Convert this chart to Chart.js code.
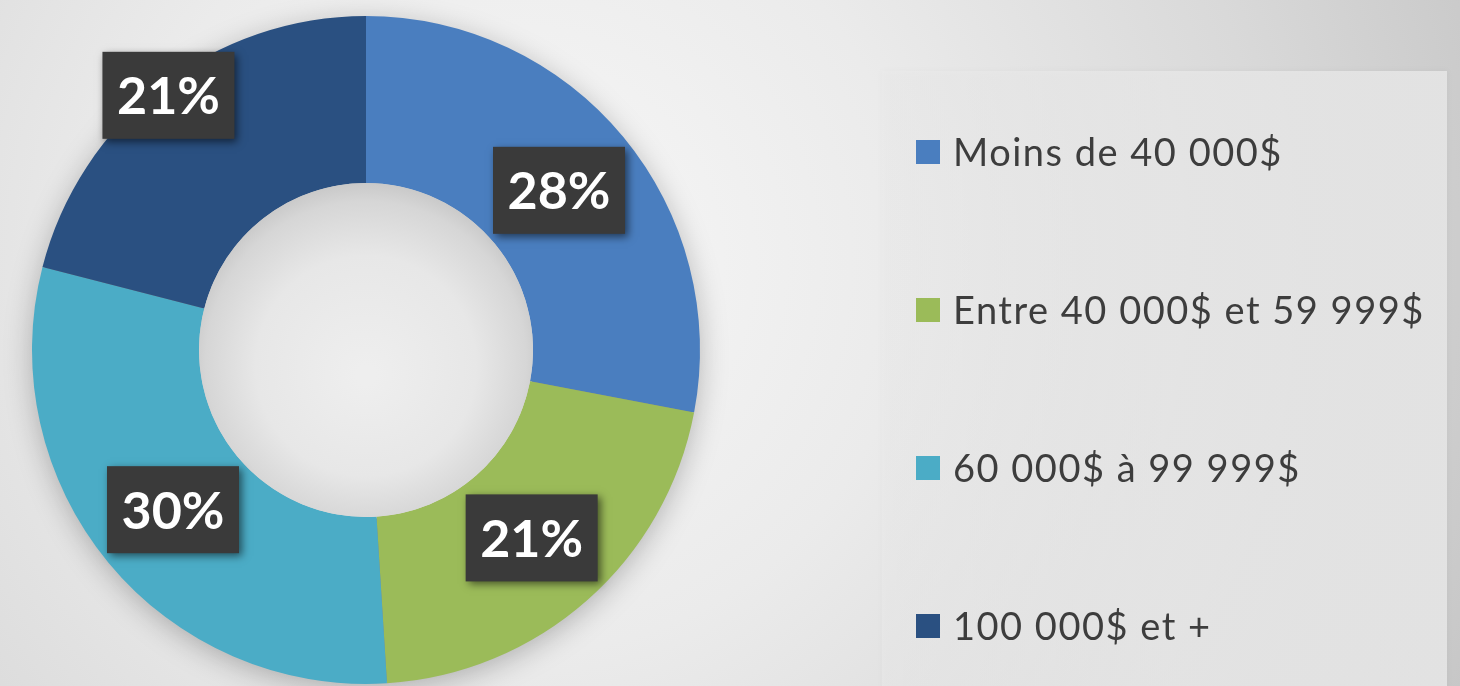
<!DOCTYPE html>
<html>
<head>
<meta charset="utf-8">
<script src="https://cdn.jsdelivr.net/npm/chart.js@4/dist/chart.umd.min.js"></script>
<style>
  html, body { margin: 0; padding: 0; background: #dcdcdc; }
  #wrap { position: relative; width: 1460px; height: 686px; overflow: hidden; }
  canvas { display: block; }
</style>
</head>
<body>
<div id="wrap"><canvas id="c" width="1460" height="686"></canvas></div>
<script>
// ---- data ----
const categories = ['Moins de 40 000$', 'Entre 40 000$ et 59 999$', '60 000$ à 99 999$', '100 000$ et +'];
const values = [28, 21, 30, 21];
const sliceColors = ['#4a7ebf', '#9bbb59', '#4bacc6', '#2a5081'];

// ---- plugins ----
const backgroundPlugin = {
  id: 'bgPaint',
  beforeDraw(chart) {
    const ctx = chart.ctx;
    const W = chart.width, H = chart.height;
    ctx.save();
    const g = ctx.createRadialGradient(520, 260, 40, 520, 260, 1050);
    g.addColorStop(0, '#f6f6f6');
    g.addColorStop(0.35, '#ebebeb');
    g.addColorStop(0.7, '#d9d9d9');
    g.addColorStop(1, '#c6c6c6');
    ctx.fillStyle = g;
    ctx.fillRect(0, 0, W, H);
    // legend panel
    const p = chart.options.plugins.bgPaint;
    ctx.shadowColor = 'rgba(0,0,0,0.05)';
    ctx.shadowBlur = 6;
    const pg = ctx.createLinearGradient(p.x, 0, p.x + p.w, 0);
    pg.addColorStop(0, 'rgba(236,236,236,0.45)');
    pg.addColorStop(0.5, 'rgba(232,232,232,0.8)');
    pg.addColorStop(1, 'rgba(228,228,228,0.95)');
    ctx.fillStyle = pg;
    ctx.fillRect(p.x, p.y, p.w, p.h);
    ctx.restore();
  },
  beforeDatasetsDraw(chart) {
    const meta = chart.getDatasetMeta(0);
    if (!meta.data.length) return;
    const a = meta.data[0].getProps(['x', 'y', 'innerRadius', 'outerRadius'], true);
    const ctx = chart.ctx;
    ctx.save();
    ctx.shadowColor = 'rgba(0,0,0,0.28)';
    ctx.shadowBlur = 30;
    ctx.shadowOffsetY = 6;
    ctx.beginPath();
    ctx.arc(a.x, a.y, a.outerRadius - 2, 0, Math.PI * 2);
    ctx.arc(a.x, a.y, a.innerRadius + 2, 0, Math.PI * 2, true);
    ctx.fillStyle = '#888';
    ctx.fill();
    ctx.restore();
  },
  afterDatasetsDraw(chart) {
    const meta = chart.getDatasetMeta(0);
    if (!meta.data.length) return;
    const a = meta.data[0].getProps(['x', 'y', 'innerRadius', 'outerRadius'], true);
    const ctx = chart.ctx;
    ctx.save();
    ctx.beginPath();
    ctx.arc(a.x, a.y, a.innerRadius, 0, Math.PI * 2);
    ctx.clip();
    const g = ctx.createRadialGradient(a.x, a.y + 25, 10, a.x, a.y + 10, a.innerRadius + 10);
    g.addColorStop(0, '#eeeeee');
    g.addColorStop(0.6, '#e7e7e7');
    g.addColorStop(0.9, '#d6d6d6');
    g.addColorStop(1, '#c9c9c9');
    ctx.fillStyle = g;
    ctx.fillRect(a.x - a.innerRadius, a.y - a.innerRadius, a.innerRadius * 2, a.innerRadius * 2);
    ctx.restore();
  }
};

const labelPlugin = {
  id: 'sliceLabels',
  afterDatasetsDraw(chart) {
    const opts = chart.options.plugins.sliceLabels;
    const meta = chart.getDatasetMeta(0);
    const ctx = chart.ctx;
    const vals = chart.data.datasets[0].data;
    meta.data.forEach((arc, i) => {
      const p = arc.getProps(['x', 'y', 'startAngle', 'endAngle', 'innerRadius', 'outerRadius'], true);
      const mid = (p.startAngle + p.endAngle) / 2;
      const r = p.innerRadius + opts.radial[i] * (p.outerRadius - p.innerRadius);
      const cx = p.x + Math.cos(mid) * r;
      const cy = p.y + Math.sin(mid) * r;
      const bw = opts.boxW, bh = opts.boxH;
      ctx.save();
      ctx.shadowColor = 'rgba(0,0,0,0.55)';
      ctx.shadowBlur = 8;
      ctx.shadowOffsetX = 3;
      ctx.shadowOffsetY = 3;
      ctx.fillStyle = '#3a3a3a';
      ctx.fillRect(cx - bw / 2, cy - bh / 2, bw, bh);
      ctx.restore();
      ctx.save();
      ctx.fillStyle = '#ffffff';
      ctx.font = opts.font;
      ctx.textAlign = 'center';
      ctx.textBaseline = 'alphabetic';
      ctx.fillText(vals[i] + '%', cx, cy + 19);
      ctx.restore();
    });
  }
};

const legendPlugin = {
  id: 'sideLegend',
  afterDraw(chart) {
    const o = chart.options.plugins.sideLegend;
    const ctx = chart.ctx;
    const bg = chart.data.datasets[0].backgroundColor;
    chart.data.labels.forEach((lab, i) => {
      const cy = o.y0 + i * o.step;
      ctx.save();
      ctx.fillStyle = bg[i];
      ctx.fillRect(o.x, cy - o.box / 2, o.box, o.box);
      ctx.fillStyle = '#3d3d3d';
      ctx.font = o.font;
      if ('letterSpacing' in ctx) ctx.letterSpacing = o.letterSpacing;
      ctx.textAlign = 'left';
      ctx.textBaseline = 'alphabetic';
      ctx.fillText(lab, o.x + o.box + o.gap, cy + 13.5);
      ctx.restore();
    });
  }
};

function build() {
  new Chart(document.getElementById('c'), {
    type: 'doughnut',
    data: {
      labels: categories,
      datasets: [{
        data: values,
        backgroundColor: sliceColors,
        borderWidth: 0,
        hoverOffset: 0
      }]
    },
    options: {
      responsive: false,
      devicePixelRatio: 1,
      animation: false,
      cutout: '50%',
      layout: { padding: { left: 32, top: 16, right: 760, bottom: 2 } },
      events: [],
      plugins: {
        legend: { display: false },
        tooltip: { enabled: false },
        title: { display: false },
        bgPaint: { x: 882, y: 71, w: 565, h: 640 },
        sliceLabels: { radial: [0.5, 0.5, 0.5, 0.93], boxW: 132, boxH: 87, font: 'bold 52px Lato, "Open Sans", sans-serif' },
        sideLegend: { x: 916, y0: 152, step: 158, box: 24, gap: 13, font: '38px Lato, "Open Sans", sans-serif', letterSpacing: '1.5px' }
      }
    },
    plugins: [backgroundPlugin, labelPlugin, legendPlugin]
  });
}

if (document.fonts && document.fonts.load) {
  Promise.all([document.fonts.load('bold 52px Lato'), document.fonts.load('38px Lato')]).then(build, build);
} else {
  build();
}
</script>
</body>
</html>
